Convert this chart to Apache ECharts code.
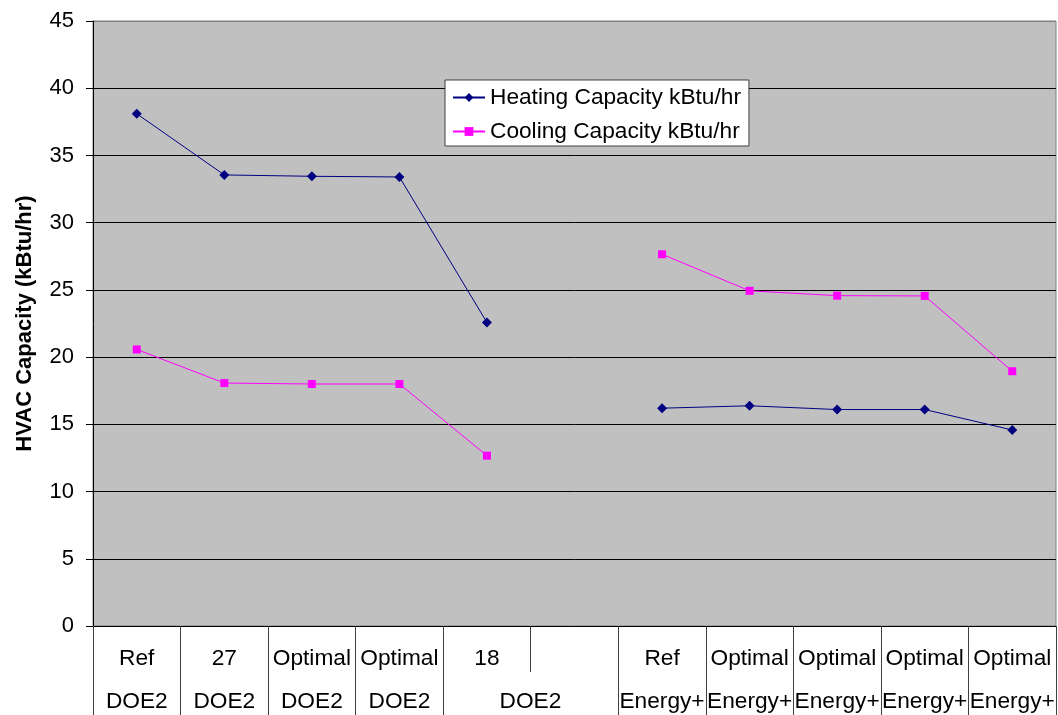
<!DOCTYPE html>
<html>
<head>
<meta charset="utf-8">
<script src="https://cdn.jsdelivr.net/npm/echarts@6/dist/echarts.min.js"></script>
<style>
html,body{margin:0;padding:0;background:#fff;}
#chart{width:1058px;height:715px;}
</style>
</head>
<body>
<div id="chart"></div>
<script>
var rowOneLabels = ['Ref', '27', 'Optimal', 'Optimal', '18', '', 'Ref', 'Optimal', 'Optimal', 'Optimal', 'Optimal'];
var rowTwoLabels = ['DOE2', 'DOE2', 'DOE2', 'DOE2', 'DOE2', '', 'Energy+', 'Energy+', 'Energy+', 'Energy+', 'Energy+'];
var heatingCapacity = [38.1, 33.55, 33.45, 33.4, 22.57, null, 16.2, 16.38, 16.1, 16.1, 14.58];
var coolingCapacity = [20.57, 18.07, 18.0, 18.0, 12.67, null, 27.65, 24.93, 24.57, 24.55, 18.95];
var seriesNames = ['Heating Capacity kBtu/hr', 'Cooling Capacity kBtu/hr'];
var yAxisTitle = 'HVAC Capacity (kBtu/hr)';

var FONT = '"Liberation Sans", Arial, sans-serif';
var FS = 22.7;
var chart = echarts.init(document.getElementById('chart'), null, {renderer: 'canvas'});

var gridColors = ['#000','#000','#000','#000','#000','#000','#000','#000','#000','#808080'];

chart.setOption({
  animation: false,
  backgroundColor: '#ffffff',
  textStyle: {fontFamily: FONT, color: '#000'},
  grid: {
    left: 93, right: 2, top: 21, bottom: 89,
    show: true, backgroundColor: '#C0C0C0', borderColor: '#808080', borderWidth: 1
  },
  legend: {
    left: 445, top: 80,
    orient: 'vertical',
    backgroundColor: '#ffffff',
    borderColor: '#404040', borderWidth: 1,
    padding: [6, 8, 3, 7],
    itemWidth: 32, itemHeight: 11, itemGap: 11,
    textStyle: {fontFamily: FONT, fontSize: FS, lineHeight: 22, color: '#000'},
    data: seriesNames
  },
  xAxis: [
    {
      type: 'category', data: rowOneLabels, boundaryGap: true,
      axisLine: {show: true, lineStyle: {color: '#000', width: 1}},
      axisTick: {show: true, length: 46, interval: 0, lineStyle: {color: '#404040', width: 1}},
      axisLabel: {interval: 0, margin: 22, fontFamily: FONT, fontSize: FS, lineHeight: 22, color: '#000'},
      splitLine: {show: false}
    },
    {
      type: 'category', data: rowTwoLabels, boundaryGap: true, position: 'bottom', offset: 46,
      axisLine: {show: false},
      axisTick: {show: true, length: 44, interval: function (index) { return index !== 5; },
                 lineStyle: {color: '#404040', width: 1}},
      axisLabel: {
        interval: 0, margin: 19, fontFamily: FONT, fontSize: FS, lineHeight: 22, color: '#000',
        formatter: function (value, index) {
          if (index === 4) { return '{s|' + value + '}'; }
          return value;
        },
        rich: {s: {padding: [0, 0, 0, 87], fontFamily: FONT, fontSize: FS, lineHeight: 22, color: '#000'}}
      },
      splitLine: {show: false}
    }
  ],
  yAxis: {
    type: 'value', min: 0, max: 45, interval: 5,
    name: yAxisTitle, nameLocation: 'middle', nameGap: 57, nameRotate: 90,
    nameTextStyle: {fontFamily: FONT, fontSize: 22, fontWeight: 'bold', color: '#000'},
    axisLine: {show: true, lineStyle: {color: '#000', width: 1}},
    axisTick: {show: true, inside: false, length: 7, lineStyle: {color: '#000'}},
    axisLabel: {margin: 19, fontFamily: FONT, fontSize: 22, color: '#000'},
    splitLine: {show: true, lineStyle: {color: gridColors, width: 1}}
  },
  series: [
    {
      name: seriesNames[0], type: 'line', data: heatingCapacity,
      connectNulls: false,
      symbol: 'diamond', symbolSize: 10,
      lineStyle: {color: '#000080', width: 1},
      itemStyle: {color: '#000080'}
    },
    {
      name: seriesNames[1], type: 'line', data: coolingCapacity,
      connectNulls: false,
      symbol: 'rect', symbolSize: 8,
      lineStyle: {color: '#FF00FF', width: 1},
      itemStyle: {color: '#FF00FF'}
    }
  ]
});
</script>
</body>
</html>
